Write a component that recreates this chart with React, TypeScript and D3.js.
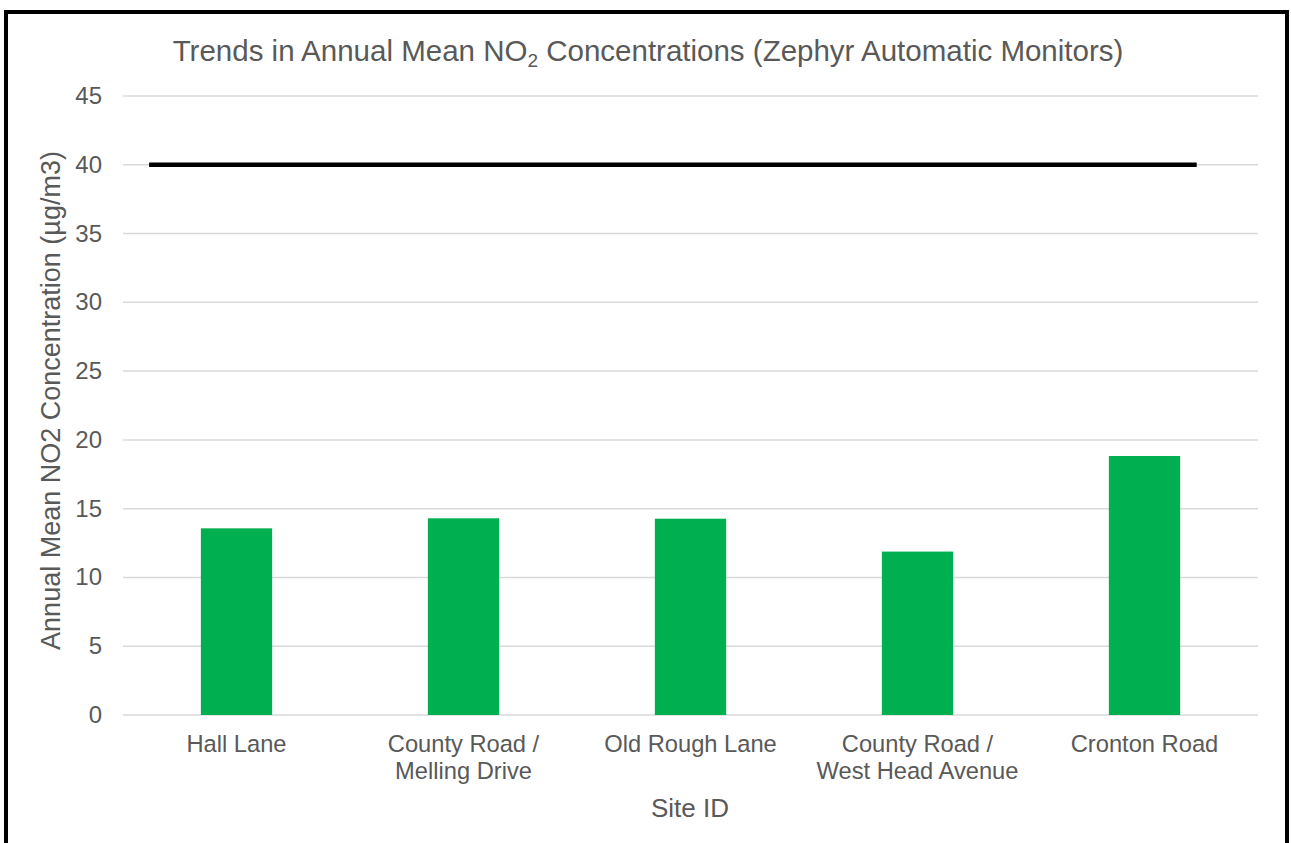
import React from "react";
import * as d3 from "d3";

const categories: string[][] = [
  ["Hall Lane"],
  ["County Road /", "Melling Drive"],
  ["Old Rough Lane"],
  ["County Road /", "West Head Avenue"],
  ["Cronton Road"],
];
const values: number[] = [13.57, 14.3, 14.27, 11.88, 18.83];
const yTicks: number[] = [0, 5, 10, 15, 20, 25, 30, 35, 40, 45];
const objectiveValue = 40;
// objective line extent in category-band units
const objectiveExtent: number[] = [0.115, 4.73];

const W = 1291;
const H = 843;
const margin = { left: 123, right: 1258, top: 96, bottom: 715 };
const FONT = "'Liberation Sans', Arial, sans-serif";
const TXT = "#595959";

export default function App() {
  const x = d3
    .scaleBand<number>()
    .domain(d3.range(categories.length))
    .range([margin.left, margin.right])
    .paddingInner(0.686)
    .paddingOuter(0.343);
  const xu = d3
    .scaleLinear()
    .domain([0, categories.length])
    .range([margin.left, margin.right]);
  const y = d3.scaleLinear().domain([0, 45]).range([margin.bottom, margin.top]);
  const step = (margin.right - margin.left) / categories.length;

  return (
    <svg
      width={W}
      height={H}
      style={{ position: "absolute", left: 0, top: 0, background: "#fff" }}
      fontFamily={FONT}
    >
      <rect x={6} y={12} width={1281} height={900} fill="#fff" stroke="#000" strokeWidth={4} />
      <text x={648} y={61} textAnchor="middle" fontSize={29.5} fill={TXT}>
        Trends in Annual Mean NO
        <tspan fontSize={19} dy={6}>2</tspan>
        <tspan dy={-6}> Concentrations (Zephyr Automatic Monitors)</tspan>
      </text>
      {yTicks.map((t) => (
        <g key={t}>
          <line
            x1={margin.left}
            x2={margin.right}
            y1={y(t)}
            y2={y(t)}
            stroke="#d9d9d9"
            strokeWidth={1.5}
          />
          <text x={102} y={y(t) + 8} textAnchor="end" fontSize={24} fill={TXT}>
            {t}
          </text>
        </g>
      ))}
      {values.map((v, i) => (
        <rect
          key={i}
          x={x(i)}
          y={y(v)}
          width={x.bandwidth()}
          height={y(0) - y(v)}
          fill="#00b050"
        />
      ))}
      <line
        x1={xu(objectiveExtent[0])}
        x2={xu(objectiveExtent[1])}
        y1={y(objectiveValue)}
        y2={y(objectiveValue)}
        stroke="#000"
        strokeWidth={4.5}
      />
      {categories.map((lines, i) => (
        <text
          key={i}
          x={margin.left + step * (i + 0.5)}
          y={752}
          textAnchor="middle"
          fontSize={23.7}
          fill={TXT}
        >
          {lines.map((l, j) => (
            <tspan key={j} x={margin.left + step * (i + 0.5)} dy={j === 0 ? 0 : 27}>
              {l}
            </tspan>
          ))}
        </text>
      ))}
      <text x={690} y={817} textAnchor="middle" fontSize={26} fill={TXT}>
        Site ID
      </text>
      <text
        transform={`translate(60, ${(margin.top + margin.bottom) / 2 - 5}) rotate(-90)`}
        textAnchor="middle"
        fontSize={27}
        fill={TXT}
      >
        Annual Mean NO2 Concentration (µg/m3)
      </text>
    </svg>
  );
}
